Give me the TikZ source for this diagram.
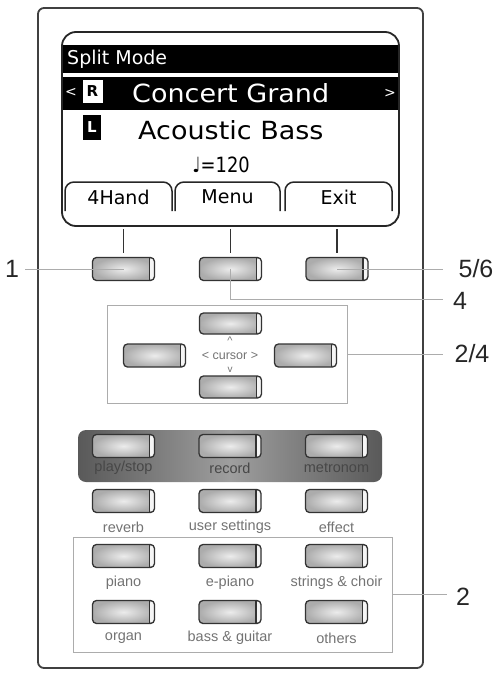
\documentclass[tikz,border=0pt]{standalone}
\usepackage{fontspec}
\setmainfont{Liberation Sans}
\newfontfamily\lcdfont{DejaVu Sans}
\newfontfamily\lcdwide{DejaVu Sans}[FakeStretch=1.08]
\newfontfamily\lcdnarrow{DejaVu Sans}[FakeStretch=0.85]
\usetikzlibrary{positioning}

\begin{document}
\begin{tikzpicture}
      [x=1pt,y=-1pt,
       btn/.style={draw=black!80,line width=1.3pt,rounded corners=4pt,
         minimum width=62pt,minimum height=23pt,inner sep=0pt,
         inner color=gray!15,outer color=gray!65,
         path picture={
           \fill[gray!8] ([xshift=-5pt]path picture bounding box.north east)
             rectangle (path picture bounding box.south east);
           \draw[black!80,line width=1.3pt]
             ([xshift=-5pt]path picture bounding box.north east)
             -- ([xshift=-5pt]path picture bounding box.south east);}},
       lbl/.style={font=\fontsize{14.5}{14.5}\selectfont,text=black!55,inner sep=0pt},
       num/.style={font=\fontsize{25}{25}\selectfont,text=black!85,inner sep=0pt},
       call/.style={draw=gray!65,line width=0.9pt},
       frame/.style={draw=gray!65,line width=0.9pt,inner sep=0pt},
       tab/.style={draw=black!85,line width=1.5pt,rounded corners=9pt},
       stem/.style={draw=black!80,line width=1.5pt,shorten <=2pt,shorten >=4pt}]
      \useasboundingbox (0,0) rectangle (497,675);

      % case and display
      \node[draw=black!75,line width=1.8pt,rounded corners=6pt,minimum width=385pt,
        minimum height=660pt,inner sep=0pt] (case) at (230.5,338) {};
      \node[draw=black!85,line width=1.8pt,rounded corners=14pt,minimum width=337pt,
        minimum height=194pt,inner sep=0pt] (lcd) at (230.5,129) {};
      \node[fill=black,minimum width=335pt,minimum height=28pt,inner sep=0pt] (bar1) at (230.5,59) {};
      \node[fill=black,minimum width=335pt,minimum height=33pt,inner sep=0pt] (bar2) at (230.5,93.5) {};
      \node[font=\lcdfont\fontsize{19}{19}\selectfont,text=white,anchor=west,inner sep=0pt]
        (mode) at (67,59) {Split Mode};
      \node[font=\lcdfont\fontsize{14}{14}\selectfont,text=white,inner sep=0pt] (prev) at (71,92) {<};
      \node[font=\lcdfont\fontsize{14}{14}\selectfont,text=white,inner sep=0pt] (next) at (390,93) {>};
      \node[fill=white,font=\lcdfont\bfseries\fontsize{15}{15}\selectfont,minimum width=20pt,
        minimum height=23pt,inner sep=0pt] (rkey) at (92.5,91.5) {R};
      \node[fill=black,text=white,font=\lcdfont\bfseries\fontsize{15}{15}\selectfont,minimum width=18pt,
        minimum height=25pt,inner sep=0pt] (lkey) at (92,127.5) {L};
      \node[font=\lcdwide\fontsize{25}{25}\selectfont,text=white,anchor=west,inner sep=0pt]
        (upper) at (132,93) {Concert Grand};
      \node[font=\lcdwide\fontsize{25}{25}\selectfont,anchor=west,inner sep=0pt]
        (lower) at (138,130) {Acoustic Bass};
      \node[font=\lcdnarrow\fontsize{21}{21}\selectfont,inner sep=0pt] (tempo) at (221,165) {♩=120};

      % soft keys
      \foreach \xa/\xb/\name/\txt in {65/172/hand/4Hand,175/280/menu/Menu,285/392/exit/Exit}
      {
        \draw[tab] (\xa,211) -- (\xa,182) -- (\xb,182) -- (\xb,211);
        \node[font=\lcdfont\fontsize{19}{19}\selectfont,inner sep=0pt] (\name) at ({(\xa+\xb)/2},197) {\txt};
      }

      \node[btn] (b1) at (123.5,269) {};
      \node[btn] (b2) at (230.5,269) {};
      \node[btn] (b3) at (337,269) {};
      \foreach \to in {b1,b2,b3}
      \draw[stem] (\to.north |- lcd.south) -- (\to.north);

      % cursor block
      \node[frame,minimum width=240pt,minimum height=98pt] (cbox) at (227,354) {};
      \node[btn,minimum height=21pt] (up) at (230.5,323.5) {};
      \node[btn] (left) at (154.5,355.5) {};
      \node[btn] (right) at (305.5,355.5) {};
      \node[btn,minimum height=22pt] (down) at (230.5,387) {};
      \node[lbl,font=\fontsize{12.5}{12.5}\selectfont] (curs) at (230,356) {<\ cursor\ >};
      \node[lbl,font=\fontsize{11}{11}\selectfont] (caret) at (230,341) {\textasciicircum};
      \node[lbl,font=\fontsize{10}{10}\selectfont] (vee) at (230,370) {v};

      % function and sound keys
      \node[rounded corners=8pt,minimum width=304pt,minimum height=52pt,inner sep=0pt,
        left color=black!65,right color=black!65,middle color=black!38] (deck) at (230,456) {};
      \node[frame,minimum width=319pt,minimum height=115pt] (sbox) at (232.5,594.5) {};
      \foreach \y/\r in {446/1,501/2,556/3,612/4}
      \foreach \c in {1,2,3}
      \node[btn] (b\r\c) at ({123.5+(\c-1)*106.5},\y) {};

      \foreach \txt [count=\c] in {{play/stop},record,metronom}
      \node[lbl,text=black!72] (l1\c) at ({123.5+(\c-1)*106.5},468) {\txt};
      \foreach \txt [count=\c] in {reverb,user settings,effect}
      \node[lbl] (l2\c) at ({123.5+(\c-1)*106.5},527) {\txt};
      \foreach \txt [count=\c] in {piano,e-piano,strings \& choir}
      \node[lbl] (l3\c) at ({123.5+(\c-1)*106.5},583) {\txt};
      \foreach \txt [count=\c] in {organ,bass \& guitar,others}
      \node[lbl] (l4\c) at ({123.5+(\c-1)*106.5},638) {\txt};

      % callouts
      \node[num] (n1) at (12,269) {1};
      \node[num] (n56) at (476,269) {5/6};
      \node[num] (n4) at (460,301) {4};
      \node[num] (n24) at (472,354) {2/4};
      \node[num] (n2) at (463,597) {2};
      \coordinate (e1) at (25,269);
      \coordinate (e56) at (443,269);
      \coordinate (e4) at (443,299);
      \coordinate (e24) at (443,354);
      \coordinate (e2) at (447,594.5);

      \foreach \from/\to in {e1/b1.center,b3.center/e56,cbox.east/e24,sbox.east/e2}
      \draw[call] (\from) -- (\to);
      \draw[call] (b2.center) |- (e4);
\end{tikzpicture}
\end{document}
